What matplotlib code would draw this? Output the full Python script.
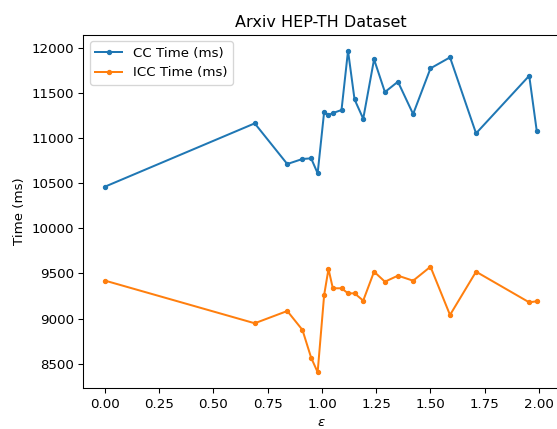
import matplotlib
matplotlib.use("Agg")
import matplotlib.pyplot as plt

eps = [0.0, 0.69, 0.84, 0.91, 0.95, 0.98, 1.01, 1.03, 1.05, 1.09, 1.12,
       1.15, 1.19, 1.24, 1.29, 1.35, 1.42, 1.50, 1.59, 1.71, 1.955, 1.99]
cc_time = [10463, 11165, 10714, 10770, 10777, 10611, 11294, 11257, 11279, 11313, 11970,
           11431, 11216, 11875, 11512, 11627, 11268, 11775, 11897, 11054, 11693, 11076]
icc_time = [9421, 8948, 9084, 8874, 8566, 8405, 9262, 9550, 9336, 9336, 9280,
            9280, 9199, 9520, 9409, 9476, 9420, 9575, 9040, 9520, 9180, 9192]

dpi = 96
fig = plt.figure(figsize=(557 / dpi, 429 / dpi), dpi=dpi)
ax = fig.add_axes([83.4 / 557, 40.7 / 429, 475 / 557, 353.6 / 429])
ax.plot(eps, cc_time, ".-", label="CC Time (ms)")
ax.plot(eps, icc_time, ".-", label="ICC Time (ms)")
ax.set_xlabel(r"$\varepsilon$")
ax.set_ylabel("Time (ms)")
ax.set_title("Arxiv HEP-TH Dataset")
ax.legend(loc="upper left")
fig.savefig("out.png", dpi=dpi)
